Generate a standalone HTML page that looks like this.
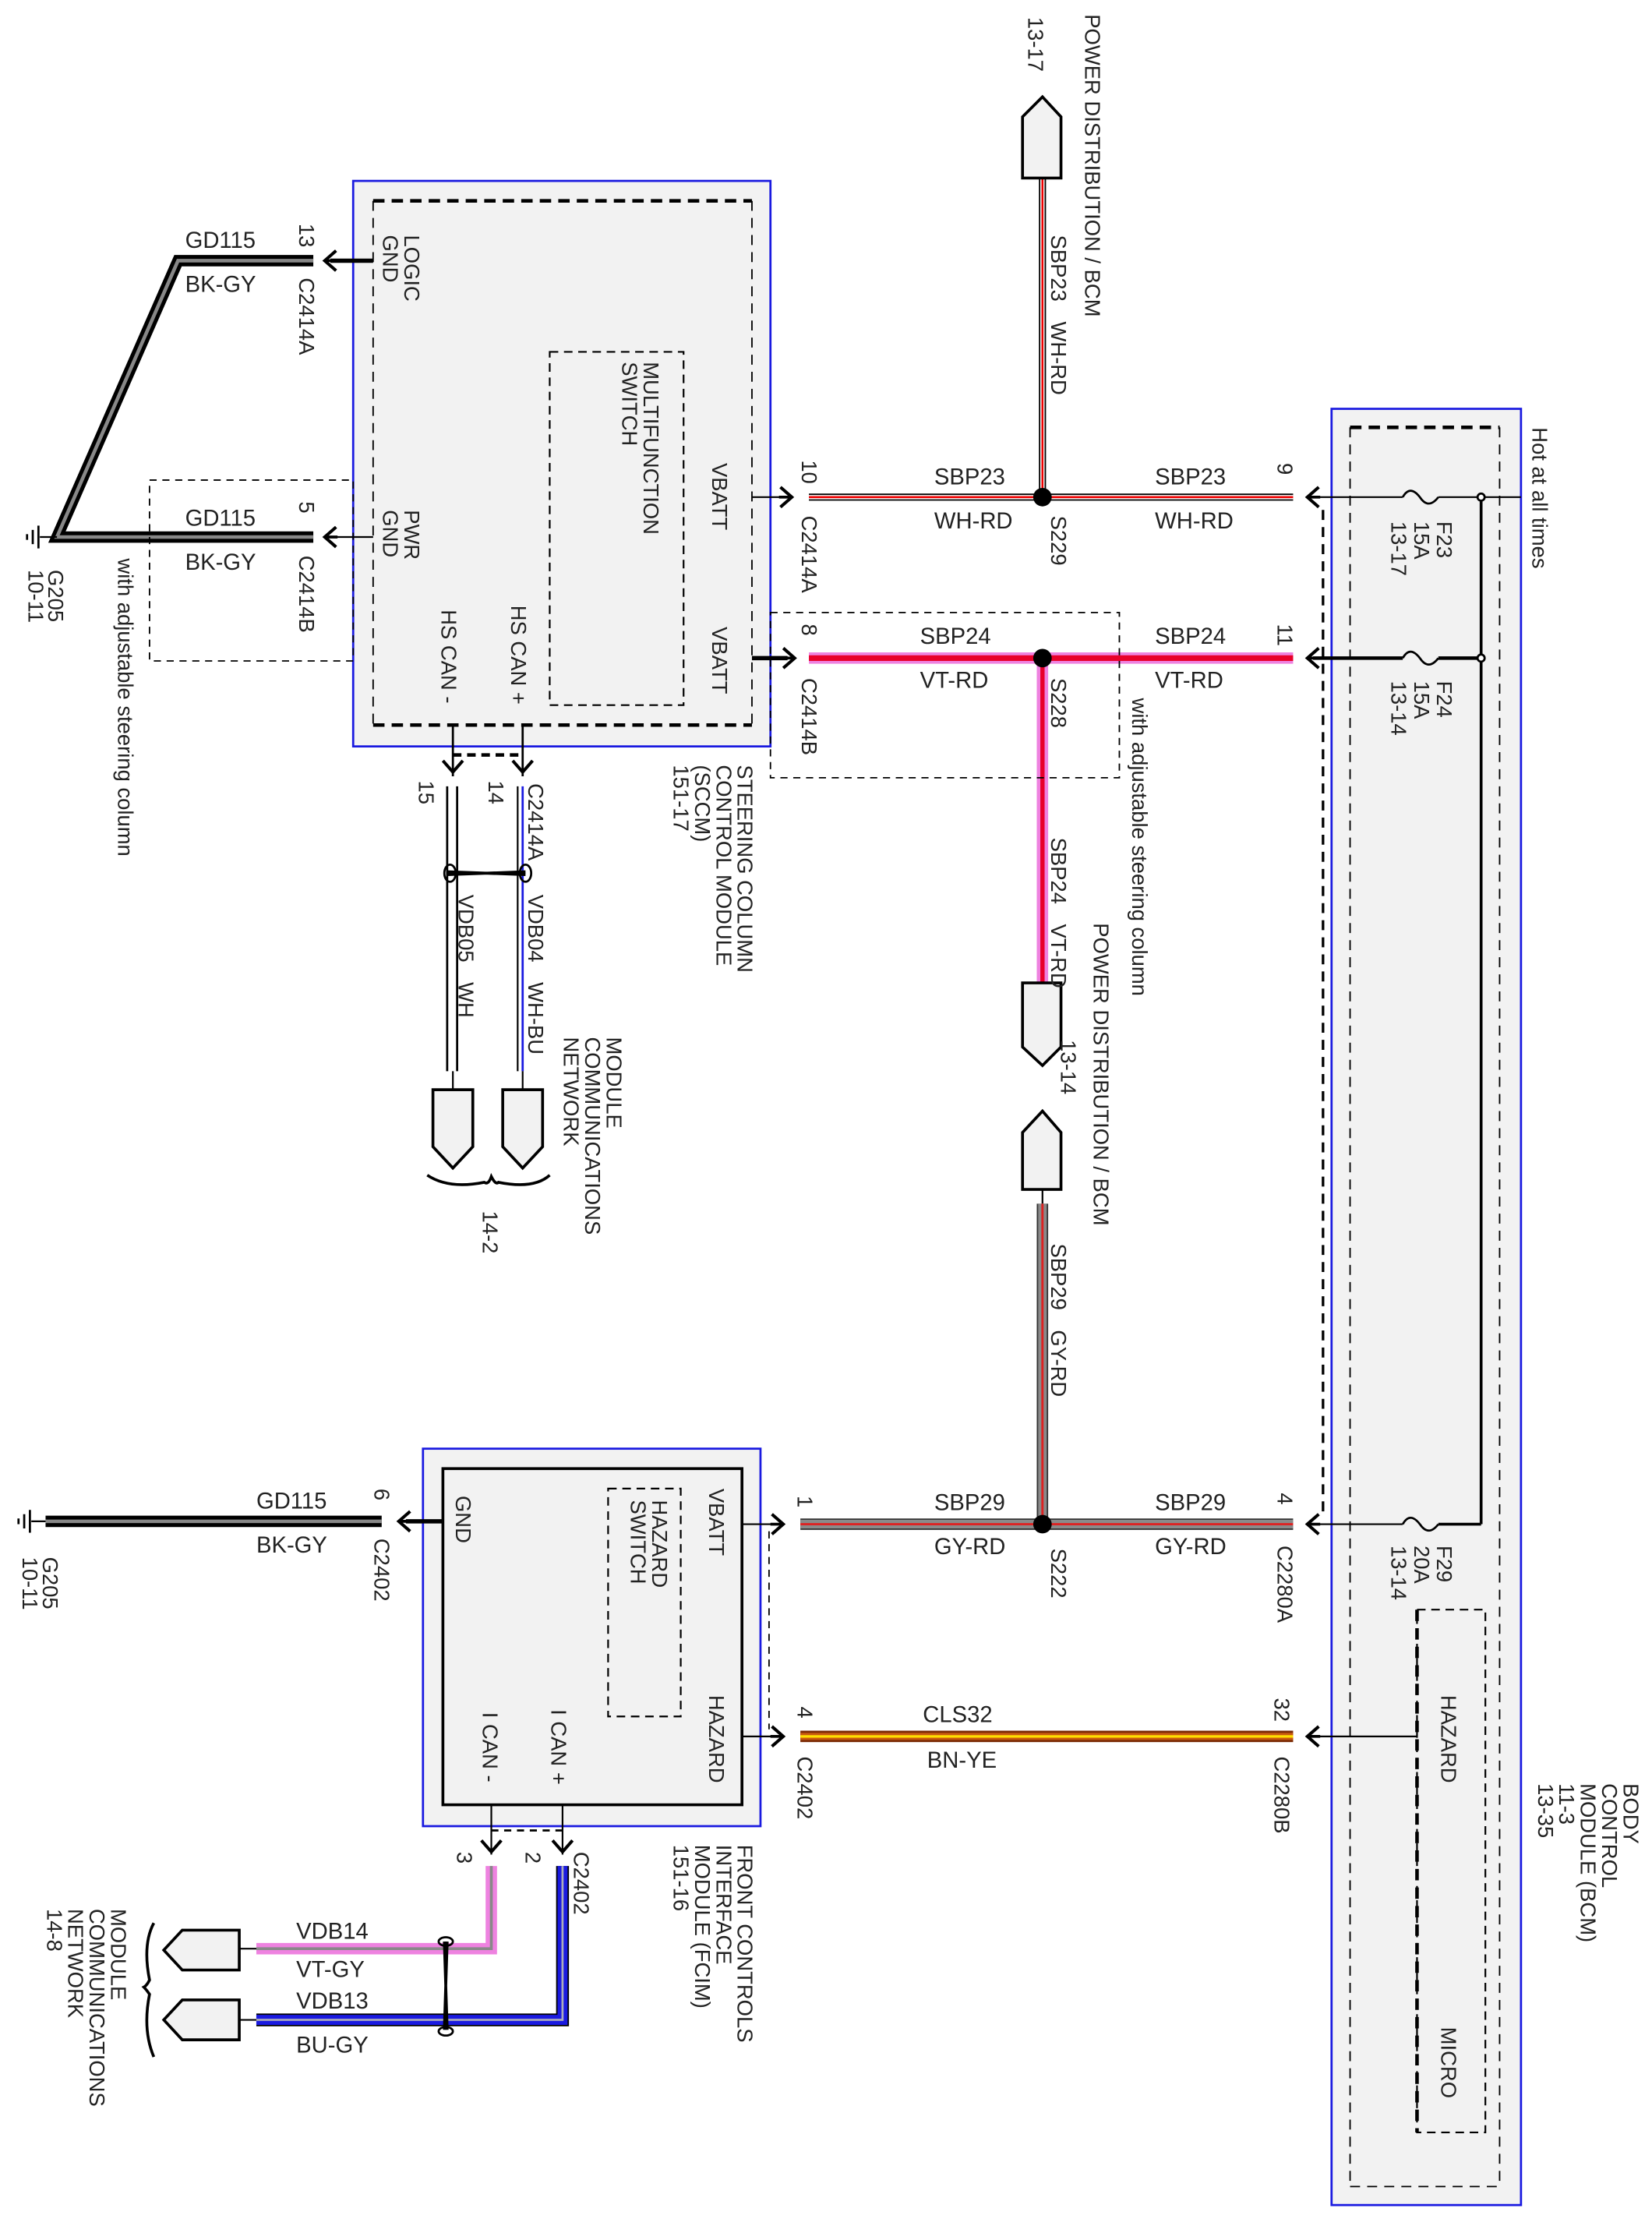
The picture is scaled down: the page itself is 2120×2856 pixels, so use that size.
<!DOCTYPE html>
<html><head><meta charset="utf-8"><style>
html,body{margin:0;padding:0;background:#fff}
svg{display:block}
text{font-family:"Liberation Sans",Arial,sans-serif;font-size:15px;fill:#222}
.b{font-size:16px}
</style></head><body>
<svg width="2120" height="2856" viewBox="0 0 1160 1562.7" preserveAspectRatio="none" xmlns="http://www.w3.org/2000/svg">
<defs>
<g id="arR"><polyline points="-8,-7 0,0 -8,7" fill="none" stroke="#000" stroke-width="2.2"/><line x1="-9" y1="0" x2="0" y2="0" stroke="#000" stroke-width="2"/></g>
<g id="arL"><polyline points="8,-7 0,0 8,7" fill="none" stroke="#000" stroke-width="2.2"/><line x1="9" y1="0" x2="0" y2="0" stroke="#000" stroke-width="2"/></g>
<g id="arD"><polyline points="-7,-8 0,0 7,-8" fill="none" stroke="#000" stroke-width="2.2"/></g>
</defs>

<!-- ===== SCCM ===== -->
<rect x="248" y="127" width="293" height="397" fill="#f2f2f2" stroke="#1a1ae0" stroke-width="1.5"/>
<line x1="262" y1="141" x2="528" y2="141" stroke="#000" stroke-width="2.5" stroke-dasharray="8,5"/>
<line x1="262" y1="509" x2="528" y2="509" stroke="#000" stroke-width="2.5" stroke-dasharray="8,5"/>
<line x1="262" y1="141" x2="262" y2="509" stroke="#000" stroke-width="1" stroke-dasharray="7,5"/>
<line x1="528" y1="141" x2="528" y2="509" stroke="#000" stroke-width="1" stroke-dasharray="7,5"/>
<rect x="386" y="247" width="94" height="248" fill="none" stroke="#000" stroke-width="1.2" stroke-dasharray="6,4"/>
<text transform="translate(284,165) rotate(90)">LOGIC<tspan x="0" dy="15">GND</tspan></text>
<text transform="translate(284,358) rotate(90)">PWR<tspan x="0" dy="15">GND</tspan></text>
<text transform="translate(452,254) rotate(90)">MULTIFUNCTION<tspan x="0" dy="15">SWITCH</tspan></text>
<text transform="translate(500,325) rotate(90)">VBATT</text>
<text transform="translate(500,440) rotate(90)">VBATT</text>
<text transform="translate(359,425) rotate(90)">HS CAN +</text>
<text transform="translate(310,428) rotate(90)">HS CAN -</text>
<text transform="translate(518,537) rotate(90)">STEERING COLUMN<tspan x="0" dy="15">CONTROL MODULE</tspan><tspan x="0" dy="15">(SCCM)</tspan><tspan x="0" dy="15">151-17</tspan></text>

<!-- ground wires -->
<line x1="262" y1="183" x2="232" y2="183" stroke="#000" stroke-width="3"/>
<use href="#arL" x="228" y="183"/>
<line x1="262" y1="377" x2="232" y2="377" stroke="#000" stroke-width="1.2"/>
<use href="#arL" x="228" y="377"/>
<polyline points="220,183 125,183 40,377 220,377" fill="none" stroke="#000" stroke-width="8" stroke-linejoin="miter"/>
<polyline points="220,183 125,183 40,377 220,377" fill="none" stroke="#888" stroke-width="2.5"/>
<line x1="40" y1="377" x2="28" y2="377" stroke="#000" stroke-width="1.2"/>
<line x1="27" y1="369" x2="27" y2="385" stroke="#000" stroke-width="1.5"/>
<line x1="23" y1="372" x2="23" y2="382" stroke="#000" stroke-width="1.5"/>
<line x1="19" y1="375" x2="19" y2="379" stroke="#000" stroke-width="1.5"/>
<text transform="translate(34,400) rotate(90)">G205<tspan x="0" dy="14">10-11</tspan></text>
<text class="b" x="130" y="174">GD115</text><text class="b" x="130" y="205">BK-GY</text>
<text class="b" x="130" y="369">GD115</text><text class="b" x="130" y="400">BK-GY</text>
<text transform="translate(210,157) rotate(90)">13</text>
<text transform="translate(210,195) rotate(90)">C2414A</text>
<text transform="translate(210,352) rotate(90)">5</text>
<text transform="translate(210,390) rotate(90)">C2414B</text>
<rect x="105" y="337" width="143" height="127" fill="none" stroke="#000" stroke-width="1" stroke-dasharray="5,4"/>
<text transform="translate(83,392) rotate(90)">with adjustable steering column</text>

<!-- CAN from SCCM -->
<line x1="367" y1="509" x2="367" y2="545" stroke="#000" stroke-width="1.5"/>
<line x1="318" y1="509" x2="318" y2="545" stroke="#000" stroke-width="1.5"/>
<line x1="318" y1="530" x2="367" y2="530" stroke="#000" stroke-width="2.5" stroke-dasharray="6,4"/>
<use href="#arD" x="367" y="542"/><use href="#arD" x="318" y="542"/>
<line x1="363.5" y1="552" x2="363.5" y2="752" stroke="#000" stroke-width="1.2"/>
<line x1="367" y1="552" x2="367" y2="752" stroke="#1a1ae0" stroke-width="1.5"/>
<line x1="314" y1="552" x2="314" y2="752" stroke="#000" stroke-width="1.5"/>
<line x1="321" y1="552" x2="321" y2="752" stroke="#000" stroke-width="1.5"/>
<line x1="367" y1="752" x2="367" y2="765" stroke="#000" stroke-width="1.2"/>
<line x1="318" y1="752" x2="318" y2="765" stroke="#000" stroke-width="1.2"/>
<path d="M314,612 L369,614 M314,614 L369,612" stroke="#000" stroke-width="2" fill="none"/>
<ellipse cx="316" cy="613" rx="4" ry="6" fill="none" stroke="#000" stroke-width="1.5"/>
<ellipse cx="369" cy="613" rx="4" ry="6" fill="none" stroke="#000" stroke-width="1.5"/>
<polygon points="353,765 381,765 381,805 367,820 353,805" fill="#f2f2f2" stroke="#000" stroke-width="2"/>
<polygon points="304,765 332,765 332,805 318,820 304,805" fill="#f2f2f2" stroke="#000" stroke-width="2"/>
<path d="M300,825 q15,10 40,5 q3,2 5,-4 q3,6 5,4 q25,5 36,-5" fill="none" stroke="#000" stroke-width="2"/>
<text transform="translate(339,850) rotate(90)">14-2</text>
<text transform="translate(343,548) rotate(90)">14</text>
<text transform="translate(294,548) rotate(90)">15</text>
<text transform="translate(371,550) rotate(90)">C2414A</text>
<text transform="translate(371,628) rotate(90)">VDB04<tspan dx="14">WH-BU</tspan></text>
<text transform="translate(322,628) rotate(90)">VDB05<tspan dx="14">WH</tspan></text>
<text transform="translate(426,728) rotate(90)">MODULE<tspan x="0" dy="15">COMMUNICATIONS</tspan><tspan x="0" dy="15">NETWORK</tspan></text>

<!-- ===== power to SCCM ===== -->
<line x1="528" y1="349" x2="553" y2="349" stroke="#000" stroke-width="1.2"/>
<use href="#arR" x="556" y="349"/>
<line x1="568" y1="349" x2="908" y2="349" stroke="#000" stroke-width="5"/>
<line x1="568" y1="349" x2="908" y2="349" stroke="#fff" stroke-width="3"/>
<line x1="568" y1="349" x2="908" y2="349" stroke="#e00" stroke-width="1.4"/>
<line x1="732" y1="125" x2="732" y2="349" stroke="#000" stroke-width="5"/>
<line x1="732" y1="125" x2="732" y2="349" stroke="#fff" stroke-width="3"/>
<line x1="732" y1="125" x2="732" y2="349" stroke="#e00" stroke-width="1.4"/>
<polygon points="718,125 745,125 745,82 732,68 718,82" fill="#f2f2f2" stroke="#000" stroke-width="2"/>
<circle cx="732" cy="349" r="6.5" fill="#000"/>
<text transform="translate(762,10) rotate(90)">POWER DISTRIBUTION / BCM</text>
<text transform="translate(722,12) rotate(90)">13-17</text>
<text transform="translate(738,165) rotate(90)">SBP23<tspan dx="14">WH-RD</tspan></text>
<text transform="translate(563,323) rotate(90)">10</text>
<text transform="translate(563,362) rotate(90)">C2414A</text>
<text transform="translate(738,362) rotate(90)">S229</text>
<text transform="translate(897,325) rotate(90)">9</text>
<text class="b" x="656" y="340">SBP23</text><text class="b" x="656" y="371">WH-RD</text>
<text class="b" x="811" y="340">SBP23</text><text class="b" x="811" y="371">WH-RD</text>

<line x1="528" y1="462" x2="553" y2="462" stroke="#000" stroke-width="3"/>
<use href="#arR" x="558" y="462"/>
<line x1="568" y1="462" x2="908" y2="462" stroke="#ee82e0" stroke-width="8"/>
<line x1="568" y1="462" x2="908" y2="462" stroke="#e8002a" stroke-width="4"/>
<line x1="732" y1="462" x2="732" y2="690" stroke="#ee82e0" stroke-width="8"/>
<line x1="732" y1="462" x2="732" y2="690" stroke="#e8002a" stroke-width="3"/>
<circle cx="732" cy="462" r="6.5" fill="#000"/>
<polygon points="718,690 745,690 745,735 732,748 718,735" fill="#f2f2f2" stroke="#000" stroke-width="2"/>
<rect x="541" y="430" width="245" height="116" fill="none" stroke="#000" stroke-width="1" stroke-dasharray="5,4"/>
<text transform="translate(795,490) rotate(90)">with adjustable steering column</text>
<text transform="translate(563,438) rotate(90)">8</text>
<text transform="translate(563,476) rotate(90)">C2414B</text>
<text transform="translate(738,476) rotate(90)">S228</text>
<text transform="translate(897,438) rotate(90)">11</text>
<text class="b" x="646" y="452">SBP24</text><text class="b" x="646" y="483">VT-RD</text>
<text class="b" x="811" y="452">SBP24</text><text class="b" x="811" y="483">VT-RD</text>
<text transform="translate(738,588) rotate(90)">SBP24<tspan dx="14">VT-RD</tspan></text>
<text transform="translate(768,648) rotate(90)">POWER DISTRIBUTION / BCM</text>
<text transform="translate(745,730) rotate(90)">13-14</text>

<polygon points="718,835 745,835 745,795 732,780 718,795" fill="#f2f2f2" stroke="#000" stroke-width="2"/>
<line x1="732" y1="835" x2="732" y2="845" stroke="#000" stroke-width="1.2"/>
<line x1="732" y1="845" x2="732" y2="1070" stroke="#333" stroke-width="8"/>
<line x1="732" y1="845" x2="732" y2="1070" stroke="#8a8a8a" stroke-width="6"/>
<line x1="732" y1="845" x2="732" y2="1070" stroke="#d22" stroke-width="1.6"/>
<text transform="translate(738,873) rotate(90)">SBP29<tspan dx="14">GY-RD</tspan></text>

<!-- ===== BCM ===== -->
<rect x="935" y="287" width="133" height="1261" fill="#f2f2f2" stroke="#1a1ae0" stroke-width="1.5"/>
<line x1="948" y1="300" x2="1053" y2="300" stroke="#000" stroke-width="2.5" stroke-dasharray="8,5"/>
<line x1="948" y1="1535" x2="1053" y2="1535" stroke="#000" stroke-width="1" stroke-dasharray="7,5"/>
<line x1="948" y1="300" x2="948" y2="1535" stroke="#000" stroke-width="1" stroke-dasharray="7,5"/>
<line x1="1053" y1="300" x2="1053" y2="1535" stroke="#000" stroke-width="1" stroke-dasharray="7,5"/>
<line x1="929" y1="358" x2="929" y2="1065" stroke="#000" stroke-width="1.8" stroke-dasharray="7,5"/>
<rect x="995" y="1130" width="48" height="367" fill="none" stroke="#000" stroke-width="1.2" stroke-dasharray="6,4"/>
<line x1="995" y1="1130" x2="995" y2="1497" stroke="#000" stroke-width="2.5" stroke-dasharray="8,5"/>
<text transform="translate(1012,1190) rotate(90)">HAZARD</text>
<text transform="translate(1012,1423) rotate(90)">MICRO</text>
<text transform="translate(1076,300) rotate(90)">Hot at all times</text>
<text transform="translate(1140,1252) rotate(90)">BODY<tspan x="0" dy="15">CONTROL</tspan><tspan x="0" dy="15">MODULE (BCM)</tspan><tspan x="0" dy="15">11-3</tspan><tspan x="0" dy="15">13-35</tspan></text>
<!-- bus -->
<line x1="1040" y1="349" x2="1040" y2="1070" stroke="#000" stroke-width="2"/>
<line x1="922" y1="349" x2="985" y2="349" stroke="#000" stroke-width="1.2"/>
<line x1="1010" y1="349" x2="1068" y2="349" stroke="#000" stroke-width="1.2"/>
<line x1="922" y1="462" x2="985" y2="462" stroke="#000" stroke-width="2.5"/>
<line x1="1010" y1="462" x2="1040" y2="462" stroke="#000" stroke-width="2.5"/>
<line x1="922" y1="1070" x2="985" y2="1070" stroke="#000" stroke-width="1.2"/>
<line x1="1010" y1="1070" x2="1040" y2="1070" stroke="#000" stroke-width="2"/>
<path d="M985,349 q5,-9 12,0 q6,9 13,0 M985,462 q5,-9 12,0 q6,9 13,0 M985,1070 q5,-9 12,0 q6,9 13,0" fill="none" stroke="#000" stroke-width="1.5"/>
<circle cx="1040" cy="349" r="2.5" fill="#fff" stroke="#000" stroke-width="1.5"/>
<circle cx="1040" cy="462" r="2.5" fill="#fff" stroke="#000" stroke-width="1.5"/>
<use href="#arL" x="918" y="349"/><use href="#arL" x="918" y="462"/><use href="#arL" x="918" y="1070"/><use href="#arL" x="918" y="1219"/>
<line x1="922" y1="1219" x2="995" y2="1219" stroke="#000" stroke-width="1.2"/>
<text transform="translate(1009,366) rotate(90)">F23<tspan x="0" dy="16">15A</tspan><tspan x="0" dy="16">13-17</tspan></text>
<text transform="translate(1009,478) rotate(90)">F24<tspan x="0" dy="16">15A</tspan><tspan x="0" dy="16">13-14</tspan></text>
<text transform="translate(1009,1085) rotate(90)">F29<tspan x="0" dy="16">20A</tspan><tspan x="0" dy="16">13-14</tspan></text>

<!-- ===== FCIM ===== -->
<rect x="297" y="1017" width="237" height="265" fill="#f2f2f2" stroke="#1a1ae0" stroke-width="1.5"/>
<rect x="311" y="1031" width="210" height="236" fill="#f2f2f2" stroke="#000" stroke-width="2"/>
<rect x="427" y="1045" width="51" height="160" fill="none" stroke="#000" stroke-width="1.2" stroke-dasharray="6,4"/>
<text transform="translate(458,1053) rotate(90)">HAZARD<tspan x="0" dy="15">SWITCH</tspan></text>
<text transform="translate(498,1045) rotate(90)">VBATT</text>
<text transform="translate(498,1190) rotate(90)">HAZARD</text>
<text transform="translate(320,1050) rotate(90)">GND</text>
<text transform="translate(387,1200) rotate(90)">I CAN +</text>
<text transform="translate(339,1202) rotate(90)">I CAN -</text>
<text transform="translate(518,1295) rotate(90)">FRONT CONTROLS<tspan x="0" dy="15">INTERFACE</tspan><tspan x="0" dy="15">MODULE (FCIM)</tspan><tspan x="0" dy="15">151-16</tspan></text>

<!-- GND -->
<line x1="311" y1="1068" x2="285" y2="1068" stroke="#000" stroke-width="3"/>
<use href="#arL" x="280" y="1068"/>
<line x1="32" y1="1068" x2="268" y2="1068" stroke="#000" stroke-width="8"/>
<line x1="32" y1="1068" x2="268" y2="1068" stroke="#888" stroke-width="2.5"/>
<line x1="32" y1="1068" x2="22" y2="1068" stroke="#000" stroke-width="1.2"/>
<line x1="21" y1="1060" x2="21" y2="1076" stroke="#000" stroke-width="1.5"/>
<line x1="17" y1="1063" x2="17" y2="1073" stroke="#000" stroke-width="1.5"/>
<line x1="13" y1="1066" x2="13" y2="1070" stroke="#000" stroke-width="1.5"/>
<text transform="translate(30,1093) rotate(90)">G205<tspan x="0" dy="14">10-11</tspan></text>
<text class="b" x="180" y="1059">GD115</text><text class="b" x="180" y="1090">BK-GY</text>
<text transform="translate(263,1045) rotate(90)">6</text>
<text transform="translate(263,1080) rotate(90)">C2402</text>

<!-- VBATT FCIM -->
<line x1="521" y1="1070" x2="545" y2="1070" stroke="#000" stroke-width="1.2"/>
<use href="#arR" x="550" y="1070"/>
<line x1="562" y1="1070" x2="908" y2="1070" stroke="#333" stroke-width="8"/>
<line x1="562" y1="1070" x2="908" y2="1070" stroke="#8a8a8a" stroke-width="6"/>
<line x1="562" y1="1070" x2="908" y2="1070" stroke="#d22" stroke-width="1.6"/>
<circle cx="732" cy="1070" r="6.5" fill="#000"/>
<text transform="translate(560,1050) rotate(90)">1</text>
<text transform="translate(738,1087) rotate(90)">S222</text>
<text transform="translate(897,1048) rotate(90)">4</text>
<text transform="translate(897,1085) rotate(90)">C2280A</text>
<text class="b" x="656" y="1060">SBP29</text><text class="b" x="656" y="1091">GY-RD</text>
<text class="b" x="811" y="1060">SBP29</text><text class="b" x="811" y="1091">GY-RD</text>
<line x1="540" y1="1075" x2="540" y2="1214" stroke="#000" stroke-width="1" stroke-dasharray="5,4"/>

<!-- HAZARD -->
<line x1="521" y1="1219" x2="545" y2="1219" stroke="#000" stroke-width="1.2"/>
<use href="#arR" x="550" y="1219"/>
<line x1="562" y1="1219" x2="908" y2="1219" stroke="#7a2a05" stroke-width="8"/>
<line x1="562" y1="1219" x2="908" y2="1219" stroke="#c85a10" stroke-width="5"/>
<line x1="562" y1="1219" x2="908" y2="1219" stroke="#ffe000" stroke-width="1.8"/>
<text transform="translate(560,1198) rotate(90)">4</text>
<text transform="translate(560,1233) rotate(90)">C2402</text>
<text transform="translate(895,1192) rotate(90)">32</text>
<text transform="translate(895,1233) rotate(90)">C2280B</text>
<text class="b" x="648" y="1209">CLS32</text><text class="b" x="651" y="1241">BN-YE</text>

<!-- I CAN -->
<line x1="395" y1="1267" x2="395" y2="1302" stroke="#000" stroke-width="1.2"/>
<line x1="345" y1="1267" x2="345" y2="1302" stroke="#000" stroke-width="1.2"/>
<line x1="345" y1="1285" x2="395" y2="1285" stroke="#000" stroke-width="1.5" stroke-dasharray="5,4"/>
<use href="#arD" x="395" y="1300"/><use href="#arD" x="345" y="1300"/>
<polyline points="345,1310 345,1368 180,1368" fill="none" stroke="#ee82e0" stroke-width="8"/>
<polyline points="345,1310 345,1368 180,1368" fill="none" stroke="#888" stroke-width="2"/>
<polyline points="395,1310 395,1418 180,1418" fill="none" stroke="#000" stroke-width="9"/>
<polyline points="395,1310 395,1418 180,1418" fill="none" stroke="#1a1ae0" stroke-width="7"/>
<polyline points="395,1310 395,1418 180,1418" fill="none" stroke="#aab" stroke-width="1.5"/>
<line x1="180" y1="1368" x2="168" y2="1368" stroke="#000" stroke-width="1.2"/>
<line x1="180" y1="1418" x2="168" y2="1418" stroke="#000" stroke-width="1.2"/>
<path d="M312,1363 L314,1425 M314,1363 L312,1425" stroke="#000" stroke-width="2" fill="none"/>
<ellipse cx="313" cy="1363" rx="5" ry="3" fill="none" stroke="#000" stroke-width="1.5"/>
<ellipse cx="313" cy="1426" rx="5" ry="3" fill="none" stroke="#000" stroke-width="1.5"/>
<polygon points="168,1355 168,1383 128,1383 115,1369 128,1355" fill="#f2f2f2" stroke="#000" stroke-width="2"/>
<polygon points="168,1404 168,1432 128,1432 115,1418 128,1404" fill="#f2f2f2" stroke="#000" stroke-width="2"/>
<path d="M108,1350 q-8,15 -3,40 q-2,4 -4,5 q2,2 4,5 q-5,25 3,44" fill="none" stroke="#000" stroke-width="2"/>
<text class="b" x="208" y="1361">VDB14</text><text class="b" x="208" y="1388">VT-GY</text>
<text class="b" x="208" y="1410">VDB13</text><text class="b" x="208" y="1441">BU-GY</text>
<text transform="translate(369,1300) rotate(90)">2</text>
<text transform="translate(321,1300) rotate(90)">3</text>
<text transform="translate(403,1300) rotate(90)">C2402</text>
<text transform="translate(78,1340) rotate(90)">MODULE<tspan x="0" dy="15">COMMUNICATIONS</tspan><tspan x="0" dy="15">NETWORK</tspan><tspan x="0" dy="15">14-8</tspan></text>
</svg>
</body></html>
